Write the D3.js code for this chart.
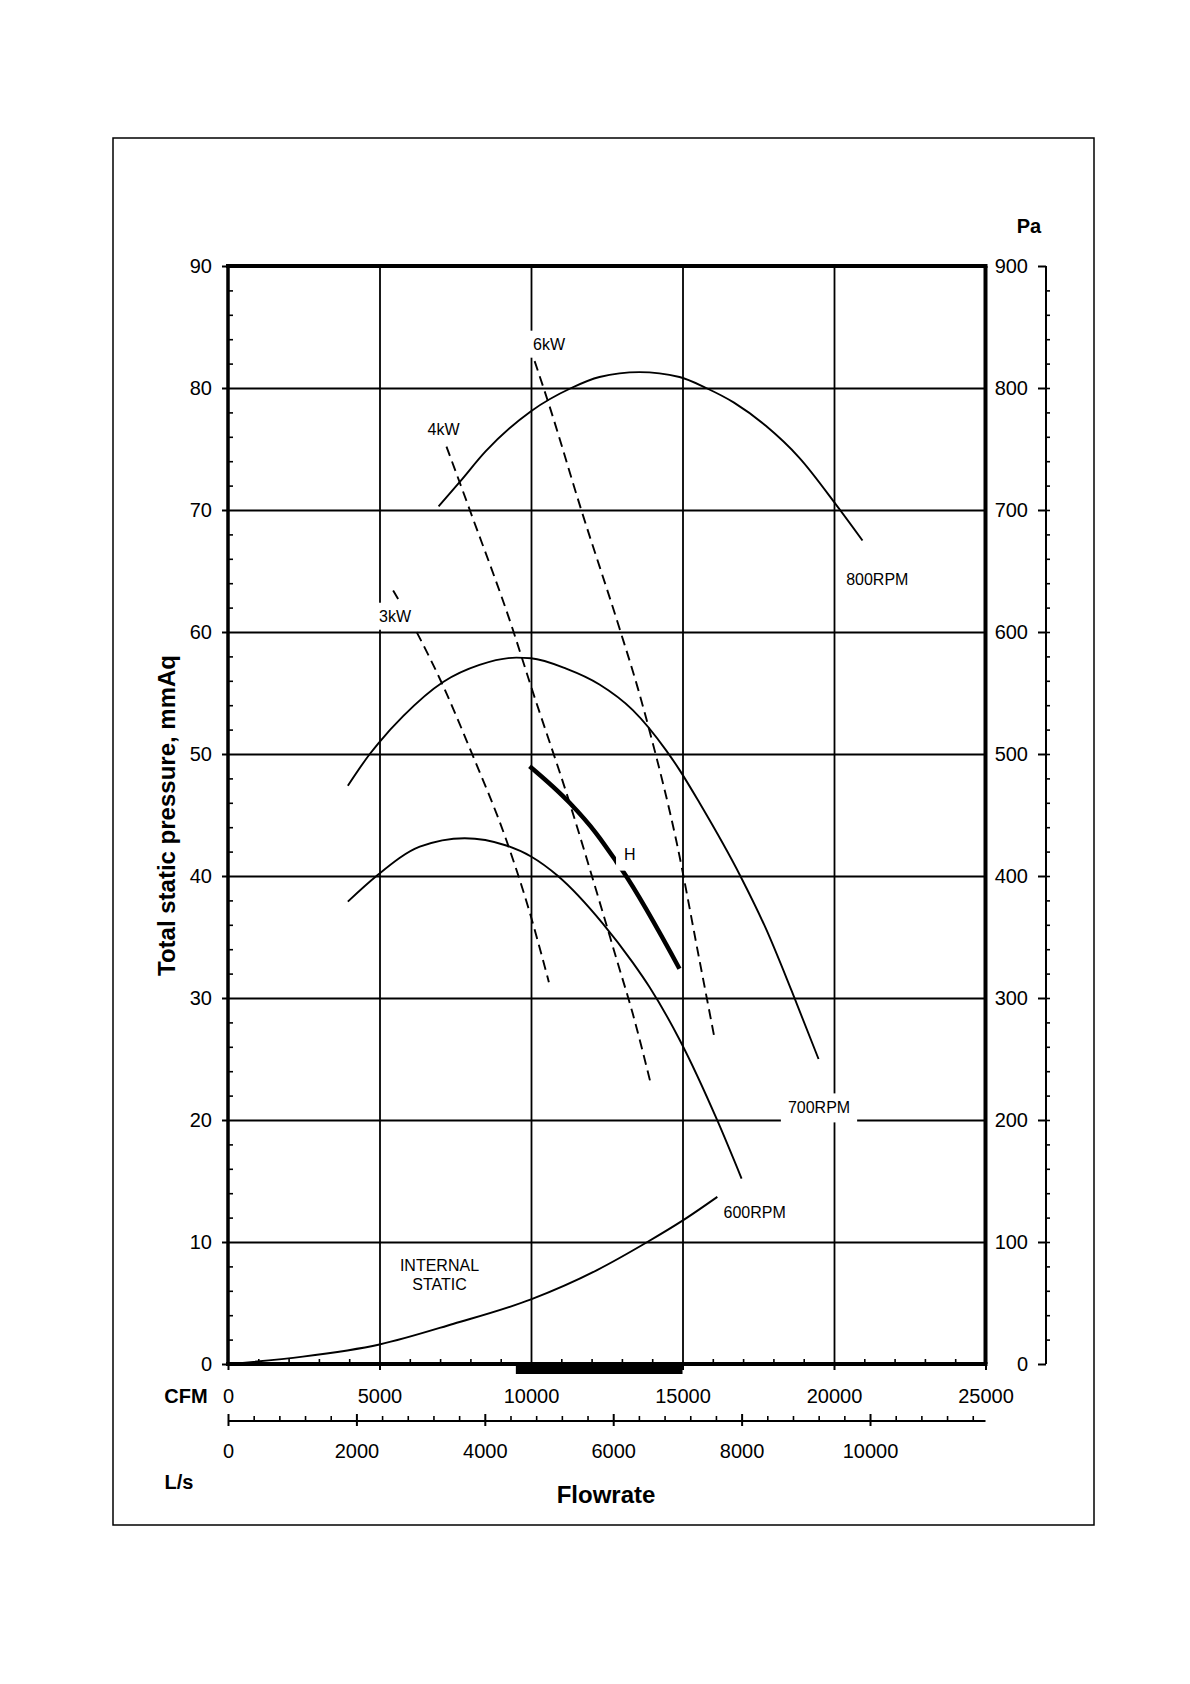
<!DOCTYPE html>
<html>
<head>
<meta charset="utf-8">
<script src="https://cdn.jsdelivr.net/npm/d3@7"></script>
<style>
  body { margin: 0; background: #fff; }
  svg { display: block; font-family: "Liberation Sans", Arial, sans-serif; }
  .noline .domain { display: none; }
</style>
</head>
<body>
<div id="chart"></div>
<script>
// Axis tick values
var cfmTicks = [0, 5000, 10000, 15000, 20000, 25000];
var mmTicks = [0, 10, 20, 30, 40, 50, 60, 70, 80, 90];
var paTicks = [0, 100, 200, 300, 400, 500, 600, 700, 800, 900];
var lsTicks = [0, 2000, 4000, 6000, 8000, 10000];

// Fan curves, [CFM, mmAq]
var rpm800 = [[6950, 70.3], [7650, 72.3], [8500, 74.8], [10000, 78.1], [11330, 80.0], [12260, 80.9],
              [13580, 81.3], [14900, 80.9], [15780, 80.0], [16700, 78.8], [17750, 76.9], [18850, 74.3],
              [20110, 70.3], [20940, 67.5]];
var rpm700 = [[3955, 47.4], [4680, 50.0], [4970, 50.9], [5780, 53.1], [7100, 55.9], [8300, 57.3],
              [9515, 57.9], [10000, 57.85], [11160, 57.0], [12260, 55.7], [13360, 53.6], [14460, 50.3],
              [14900, 48.7], [15560, 46.0], [16930, 39.9], [17750, 35.7], [18600, 30.6], [19490, 25.0]];
var rpm600 = [[3955, 37.9], [4900, 40.0], [6330, 42.4], [7810, 43.1], [9185, 42.5], [10000, 41.6],
              [10890, 40.0], [12370, 36.1], [13360, 32.9], [13910, 30.9], [14900, 26.6], [16160, 19.9],
              [16950, 15.2]];
var curveH = [[9954, 49.0], [11273, 46.0], [12150, 43.5], [12810, 41.2], [13030, 40.4], [14900, 32.4]];
var internalStatic = [[0, 0], [2470, 0.6], [5000, 1.6], [7450, 3.3], [10000, 5.3], [12180, 7.7],
                      [13840, 10.0], [15000, 11.75], [16150, 13.7]];

// Power lines (dashed)
var kw3 = [[5450, 63.4], [6330, 59.5], [7040, 55.9], [8090, 49.8], [9185, 42.95], [9900, 37.5], [10590, 31.3]];
var kw4 = [[7210, 75.2], [7980, 70.0], [9400, 60.2], [9954, 55.9], [11273, 46.0], [12370, 37.0],
           [12810, 33.3], [13360, 28.7], [13940, 23.1]];
var kw6 = [[10120, 82.2], [10560, 78.9], [11660, 70.0], [12920, 60.3], [13525, 55.4], [13965, 51.4],
           [14790, 42.95], [15560, 33.1], [16050, 26.8]];

// Selection range marked on the CFM axis
var fanRange = [9500, 15000];

// Curve labels, anchored in data units
var labels = [
    { text: "6kW", cfm: 10594, mm: 83.6, bg: 5 },
    { text: "4kW", cfm: 7112, mm: 76.6 },
    { text: "3kW", cfm: 5512, mm: 61.3, bg: 5 },
    { text: "H", cfm: 13261, mm: 41.8, bg: 8 },
    { text: "800RPM", cfm: 21429, mm: 64.3 },
    { text: "700RPM", cfm: 19505, mm: 21.0, bg: 6 },
    { text: "600RPM", cfm: 17380, mm: 12.45 },
    { text: "INTERNAL", cfm: 6980, mm: 8.1 },
    { text: "STATIC", cfm: 6980, mm: 6.5 }
];

var W = 1190, H = 1684;
var svg = d3.select("#chart").append("svg")
    .attr("width", W)
    .attr("height", H);

// Scales
var x = d3.scaleLinear().domain([0, 25000]).range([228, 985.5]);
var y = d3.scaleLinear().domain([0, 90]).range([1364, 266]);
var yPa = d3.scaleLinear().domain([0, 900]).range([1364, 266]);
var xLs = d3.scaleLinear().domain([0, 25000 * 0.471947]).range([228, 985.5]);
var fmt = d3.format("d");
var font = "Liberation Sans, Arial, sans-serif";

// outer frame
svg.append("rect")
    .attr("x", 113).attr("y", 138)
    .attr("width", 1094 - 113).attr("height", 1525 - 138)
    .attr("fill", "none").attr("stroke", "#000").attr("stroke-width", 1.5);

var plotW = x(25000) - x(0), plotH = y(0) - y(90);

// grid lines
svg.append("g").attr("class", "noline")
    .attr("transform", "translate(" + x(0) + ",0)")
    .call(d3.axisLeft(y).tickValues(mmTicks.slice(1, -1)).tickSize(-plotW).tickFormat(""))
    .selectAll("line").attr("stroke-width", 1.8);
svg.append("g").attr("class", "noline")
    .attr("transform", "translate(0," + y(0) + ")")
    .call(d3.axisBottom(x).tickValues(cfmTicks.slice(1, -1)).tickSize(plotH).tickFormat(""))
    .selectAll("line").attr("y2", -plotH).attr("stroke-width", 1.8);

// curves (all are functions of flow, so monotone in x keeps them smooth)
var line = d3.line()
    .x(function(d) { return x(d[0]); })
    .y(function(d) { return y(d[1]); })
    .curve(d3.curveMonotoneX);

[rpm800, rpm700, rpm600, internalStatic].forEach(function(c) {
    svg.append("path").datum(c)
        .attr("d", line)
        .attr("fill", "none").attr("stroke", "#000").attr("stroke-width", 1.9);
});

[kw3, kw4, kw6].forEach(function(c) {
    svg.append("path").datum(c)
        .attr("d", line)
        .attr("fill", "none").attr("stroke", "#000").attr("stroke-width", 1.9)
        .attr("stroke-dasharray", "10,6");
});

svg.append("path").datum(curveH)
    .attr("d", line)
    .attr("fill", "none").attr("stroke", "#000").attr("stroke-width", 4.5);

// labels, some with a white box that breaks the lines under them
labels.forEach(function(l) {
    var g = svg.append("g");
    var t = g.append("text")
        .attr("x", x(l.cfm)).attr("y", y(l.mm))
        .attr("dy", "0.35em")
        .attr("text-anchor", "middle")
        .style("font-size", "16px")
        .text(l.text);
    if (l.bg) {
        var b = t.node().getBBox();
        var px = l.text === "700RPM" ? 7 : l.bg;
        g.insert("rect", "text")
            .attr("x", b.x - px).attr("y", b.y - l.bg)
            .attr("width", b.width + 2 * px).attr("height", b.height + 2 * l.bg)
            .attr("fill", "#fff");
    }
});

// plot border
var border = svg.append("g").attr("stroke", "#000");
border.append("line").attr("x1", x(0) - 2).attr("x2", x(25000) + 2)
    .attr("y1", y(90)).attr("y2", y(90)).attr("stroke-width", 4);
border.append("line").attr("x1", x(0) - 2).attr("x2", x(25000) + 2)
    .attr("y1", y(0)).attr("y2", y(0)).attr("stroke-width", 4);
border.append("line").attr("x1", x(0)).attr("x2", x(0))
    .attr("y1", y(90)).attr("y2", y(0)).attr("stroke-width", 3.5);
border.append("line").attr("x1", x(25000)).attr("x2", x(25000))
    .attr("y1", y(90)).attr("y2", y(0)).attr("stroke-width", 4);

// black bar under the CFM axis
svg.append("rect")
    .attr("x", x(fanRange[0])).attr("y", y(0))
    .attr("width", x(fanRange[1]) - x(fanRange[0])).attr("height", 10)
    .attr("fill", "#000");

// left axis, mmAq
var leftMajor = svg.append("g").attr("class", "noline")
    .attr("transform", "translate(" + x(0) + ",0)")
    .call(d3.axisLeft(y).tickValues(mmTicks).tickSize(6).tickPadding(10).tickFormat(fmt));
leftMajor.selectAll("text").style("font-size", "20px").style("font-family", font);
leftMajor.selectAll("line").attr("stroke-width", 2);
svg.append("g").attr("class", "noline")
    .attr("transform", "translate(" + x(0) + ",0)")
    .call(d3.axisLeft(y).tickValues(d3.range(2, 90, 2).filter(function(v) { return v % 10; }))
        .tickSize(-5).tickFormat(""))
    .selectAll("line").attr("stroke-width", 1.6);

// bottom axis, CFM
var bottomMajor = svg.append("g").attr("class", "noline")
    .attr("transform", "translate(0," + y(0) + ")")
    .call(d3.axisBottom(x).tickValues(cfmTicks).tickSize(6).tickPadding(19).tickFormat(fmt));
bottomMajor.selectAll("text").style("font-size", "20px").style("font-family", font);
bottomMajor.selectAll("line").attr("stroke-width", 2);
svg.append("g").attr("class", "noline")
    .attr("transform", "translate(0," + y(0) + ")")
    .call(d3.axisBottom(x).tickValues(d3.range(1000, 25000, 1000).filter(function(v) { return v % 5000; }))
        .tickSize(-5).tickFormat(""))
    .selectAll("line").attr("stroke-width", 1.6);

// right axis, Pa
var paX = 1046;
svg.append("line")
    .attr("x1", paX).attr("x2", paX)
    .attr("y1", yPa(900)).attr("y2", yPa(0))
    .attr("stroke", "#000").attr("stroke-width", 2);
var rightMajor = svg.append("g").attr("class", "noline")
    .attr("transform", "translate(" + paX + ",0)")
    .call(d3.axisLeft(yPa).tickValues(paTicks).tickSize(8).tickPadding(10).tickFormat(fmt));
rightMajor.selectAll("text").style("font-size", "20px").style("font-family", font);
rightMajor.selectAll("line").attr("stroke-width", 2);
svg.append("g").attr("class", "noline")
    .attr("transform", "translate(" + paX + ",0)")
    .call(d3.axisRight(yPa).tickValues(d3.range(20, 900, 20)).tickSize(4).tickFormat(""))
    .selectAll("line").attr("stroke-width", 1.6);

// L/s axis
var lsY = 1421;
svg.append("line")
    .attr("x1", xLs(0)).attr("x2", x(25000))
    .attr("y1", lsY).attr("y2", lsY)
    .attr("stroke", "#000").attr("stroke-width", 2);
var lsAxis = svg.append("g").attr("class", "noline")
    .attr("transform", "translate(0," + lsY + ")")
    .call(d3.axisBottom(xLs).tickValues(lsTicks).tickSize(5).tickPadding(18).tickFormat(fmt));
lsAxis.selectAll("text").style("font-size", "20px").style("font-family", font);
lsAxis.selectAll("line").attr("stroke-width", 2);
svg.append("g").attr("class", "noline")
    .attr("transform", "translate(0," + lsY + ")")
    .call(d3.axisTop(xLs).tickValues(lsTicks).tickSize(7).tickFormat(""))
    .selectAll("line").attr("stroke-width", 2);
svg.append("g").attr("class", "noline")
    .attr("transform", "translate(0," + lsY + ")")
    .call(d3.axisTop(xLs).tickValues(d3.range(400, 11800, 400).filter(function(v) { return v % 2000; }))
        .tickSize(5).tickFormat(""))
    .selectAll("line").attr("stroke-width", 1.6);

// axis titles
svg.append("text")
    .attr("transform", "translate(175,815.5) rotate(-90)")
    .attr("text-anchor", "middle")
    .style("font-size", "24px").style("font-weight", "bold")
    .text("Total static pressure, mmAq");
svg.append("text")
    .attr("x", 606).attr("y", 1495).attr("dy", "0.35em")
    .attr("text-anchor", "middle")
    .style("font-size", "24px").style("font-weight", "bold")
    .text("Flowrate");
svg.append("text")
    .attr("x", 186).attr("y", 1396).attr("dy", "0.35em")
    .attr("text-anchor", "middle")
    .style("font-size", "20px").style("font-weight", "bold")
    .text("CFM");
svg.append("text")
    .attr("x", 179).attr("y", 1482).attr("dy", "0.35em")
    .attr("text-anchor", "middle")
    .style("font-size", "20px").style("font-weight", "bold")
    .text("L/s");
svg.append("text")
    .attr("x", 1029).attr("y", 226).attr("dy", "0.35em")
    .attr("text-anchor", "middle")
    .style("font-size", "20px").style("font-weight", "bold")
    .text("Pa");
</script>
</body>
</html>
